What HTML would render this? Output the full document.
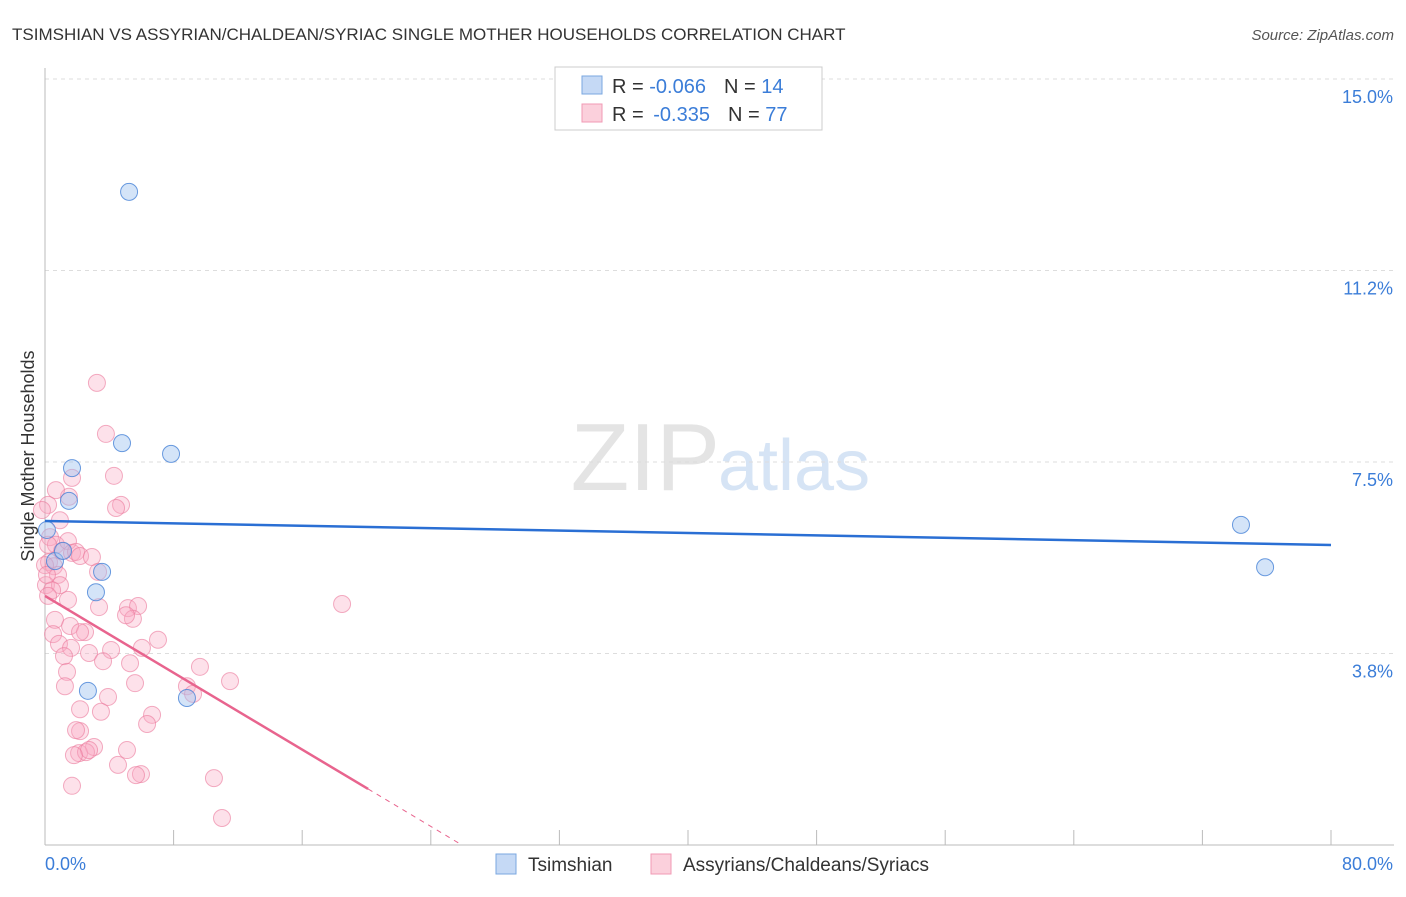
<!DOCTYPE html>
<html><head><meta charset="utf-8"><style>
body{margin:0;background:#fff;font-family:"Liberation Sans",sans-serif}
svg text{font-family:"Liberation Sans",sans-serif}
</style></head><body>
<svg id="c" width="1406" height="892">
<text x="12" y="40" font-size="17" fill="#333">TSIMSHIAN VS ASSYRIAN/CHALDEAN/SYRIAC SINGLE MOTHER HOUSEHOLDS CORRELATION CHART</text>
<text x="1394" y="40" font-size="15" fill="#555" text-anchor="end" font-style="italic">Source: ZipAtlas.com</text>
<text x="720" y="490" font-size="96" fill="#e4e4e4" text-anchor="end" font-family="Liberation Serif">ZIP</text>
<text x="718" y="490" font-size="72" fill="#d6e4f5">atlas</text>
<text transform="translate(34,456) rotate(-90)" font-size="18" fill="#333" text-anchor="middle">Single Mother Households</text>
<g id="grid"></g><g id="pts"></g><g id="lines"></g>
<g>
<rect x="555" y="67" width="267" height="63" fill="#fff" stroke="#ccc"/>
<rect x="582" y="76" width="20" height="18" fill="#c5d9f5" stroke="#7aa7e0"/>
<rect x="582" y="104" width="20" height="18" fill="#fbd0dc" stroke="#f09ab4"/>
<text x="612" y="93" font-size="20" fill="#333">R = <tspan fill="#3b7dd8">-0.066</tspan><tspan dx="18">N = </tspan><tspan fill="#3b7dd8">14</tspan></text>
<text x="612" y="121" font-size="20" fill="#333">R = <tspan dx="4" fill="#3b7dd8">-0.335</tspan><tspan dx="18">N = </tspan><tspan fill="#3b7dd8">77</tspan></text>
</g>
<g>
<rect x="496" y="854" width="20" height="20" fill="#c5d9f5" stroke="#7aa7e0"/>
<text x="528" y="871" font-size="19" fill="#333">Tsimshian</text>
<rect x="651" y="854" width="20" height="20" fill="#fbd0dc" stroke="#f09ab4"/>
<text x="683" y="871" font-size="19" fill="#333">Assyrians/Chaldeans/Syriacs</text>
</g>
</svg>
<script>
const blueX=[5.23,4.79,7.84,1.68,1.49,0.12,0.62,1.12,3.55,3.17,2.67,8.83,74.4,75.9];
const blueY=[12.79,7.87,7.66,7.38,6.74,6.17,5.56,5.76,5.35,4.95,3.02,2.88,6.27,5.44];
const pinkPx=[[97,383],[106,434],[114,476],[72,478],[69,497],[121,505],[116,508],[56,490],[60,520],[48,505],[50,537],[56,545],[62,551],[68,541],[72,553],[76,552],[80,556],[92,557],[49,562],[54,566],[58,575],[46,585],[60,585],[52,590],[48,596],[68,600],[98,572],[99,607],[128,608],[138,606],[133,619],[126,615],[158,640],[55,620],[70,626],[85,632],[53,634],[80,632],[59,644],[71,648],[64,656],[89,653],[111,650],[130,663],[103,661],[142,648],[200,667],[230,681],[135,683],[108,697],[187,686],[193,694],[67,672],[65,686],[80,709],[101,712],[152,715],[147,724],[80,731],[76,730],[127,750],[94,747],[79,753],[86,752],[89,750],[74,755],[118,765],[141,774],[136,775],[214,778],[72,786],[222,818],[342,604],[45,565],[47,575],[42,510],[48,545]];
const pinkX=pinkPx.map(p=>+((p[0]-45)/16.075).toFixed(2));
const pinkY=pinkPx.map(p=>+(15-(p[1]-79)/51.07).toFixed(2));
const yTicks=[15,11.25,7.5,3.75];
const yTickLabels=["15.0%","11.2%","7.5%","3.8%"];
const xTicks=[0,8,16,24,32,40,48,56,64,72,80];
const blueTrend=[6.345,-0.00588];
const pinkTrend=[4.877,-0.188];
const sx=v=>45+v*16.075, sy=v=>79+(15-v)*51.07;
const NS="http://www.w3.org/2000/svg";
function mk(t,a,p){const e=document.createElementNS(NS,t);for(const k in a)e.setAttribute(k,a[k]);p.appendChild(e);return e;}
const g=document.getElementById('grid');
yTicks.forEach((v,i)=>{
 const l=mk('line',{x1:45,x2:1394,y1:sy(v),y2:sy(v),stroke:'#ddd','stroke-dasharray':'4,4'},g);
 
 
 const t=mk('text',{x:1393,y:sy(v)+24,'font-size':18,fill:'#3b7dd8','text-anchor':'end'},g);t.textContent=yTickLabels[i];
 
 
});
const ax=mk('line',{x1:45,x2:45,y1:68,y2:845,stroke:'#bbb'},g);


const bx=mk('line',{x1:45,x2:1394,y1:845,y2:845,stroke:'#bbb'},g);


xTicks.forEach(v=>{const l=mk('line',{x1:sx(v),x2:sx(v),y1:830,y2:845,stroke:'#bbb'},g);
 
 });
let t=mk('text',{x:45,y:870,'font-size':18,fill:'#3b7dd8'},g);t.textContent='0.0%';


t=mk('text',{x:1393,y:870,'font-size':18,fill:'#3b7dd8','text-anchor':'end'},g);t.textContent='80.0%';


const P=document.getElementById('pts');
pinkX.forEach((x,i)=>{const c=mk('circle',{cx:sx(x),cy:sy(pinkY[i]),r:8.5,fill:'rgba(248,170,195,0.35)',stroke:'rgba(235,120,155,0.6)','stroke-width':1},P);
 
 });
blueX.forEach((x,i)=>{const c=mk('circle',{cx:sx(x),cy:sy(blueY[i]),r:8.5,fill:'rgba(160,195,240,0.45)',stroke:'rgba(70,130,215,0.8)','stroke-width':1},P);
 
 });
const L=document.getElementById('lines');
let l=mk('line',{x1:sx(0),y1:sy(blueTrend[0]),x2:sx(80),y2:sy(blueTrend[0]+blueTrend[1]*80),stroke:'#2a6fd4','stroke-width':2.5},L);


const pe=20.1, pz=-pinkTrend[0]/pinkTrend[1];
l=mk('line',{x1:sx(0),y1:sy(pinkTrend[0]),x2:sx(pe),y2:sy(pinkTrend[0]+pinkTrend[1]*pe),stroke:'#e8648e','stroke-width':2.5},L);


l=mk('line',{x1:sx(pe),y1:sy(pinkTrend[0]+pinkTrend[1]*pe),x2:sx(pz),y2:sy(0),stroke:'#e8648e','stroke-width':1,'stroke-dasharray':'5,5'},L);


</script>
</body></html>
